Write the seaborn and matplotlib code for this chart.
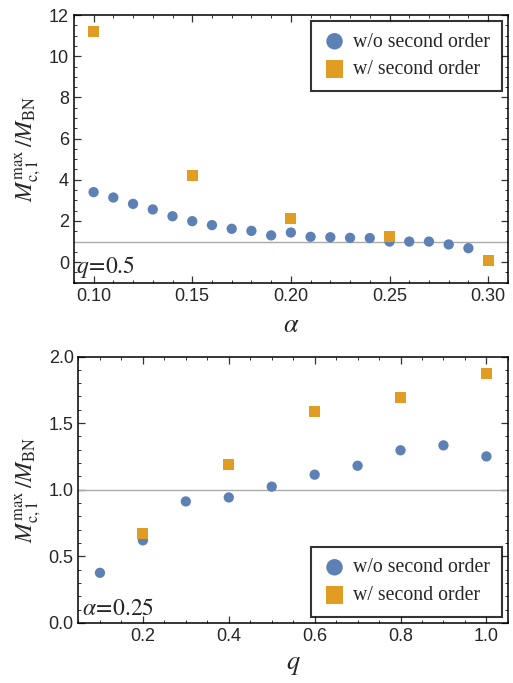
import numpy as np
import pandas as pd
import matplotlib
matplotlib.use("Agg")
import matplotlib.pyplot as plt
from matplotlib.ticker import MultipleLocator
import seaborn as sns

# top panel: q = 0.5, scan over alpha
alpha_wo = [0.10, 0.11, 0.12, 0.13, 0.14, 0.15, 0.16, 0.17, 0.18, 0.19,
            0.20, 0.21, 0.22, 0.23, 0.24, 0.25, 0.26, 0.27, 0.28, 0.29]
mass_alpha_wo = [3.40, 3.14, 2.83, 2.56, 2.23, 1.99, 1.80, 1.62, 1.52, 1.30,
                 1.44, 1.23, 1.21, 1.18, 1.17, 1.00, 1.00, 1.00, 0.86, 0.68]
alpha_w = [0.10, 0.15, 0.20, 0.25, 0.30]
mass_alpha_w = [11.19, 4.21, 2.12, 1.23, 0.08]

# bottom panel: alpha = 0.25, scan over q
q_wo = [0.1, 0.2, 0.3, 0.4, 0.5, 0.6, 0.7, 0.8, 0.9, 1.0]
mass_q_wo = [0.376, 0.62, 0.912, 0.942, 1.023, 1.113, 1.18, 1.296, 1.333, 1.25]
q_w = [0.2, 0.4, 0.6, 0.8, 1.0]
mass_q_w = [0.672, 1.19, 1.589, 1.694, 1.875]

BLUE = "#5E81B5"
ORANGE = "#E19C24"
LBL_WO = "w/o second order"
LBL_W = "w/ second order"
YLABEL = r"$M^{\mathrm{max}}_{\mathrm{c,1}}\,/M_{\mathrm{BN}}$"

sns.set_style("ticks")
plt.rcParams["font.family"] = ["Liberation Sans", "DejaVu Sans"]
plt.rcParams["mathtext.fontset"] = "stix"


def style_axes(ax):
    for sp in ax.spines.values():
        sp.set_linewidth(1.1)
        sp.set_color("black")
    ax.tick_params(which="both", direction="in", top=True, right=True,
                   labelsize=13, color="#333333")
    ax.tick_params(which="major", length=5, width=0.9)
    ax.tick_params(which="minor", length=2.5, width=0.7)


def panel(ax, x_wo, y_wo, x_w, y_w, leg_loc):
    df_wo = pd.DataFrame({"x": x_wo, "y": y_wo})
    df_w = pd.DataFrame({"x": x_w, "y": y_w})
    ax.axhline(1.0, color="#aaaaaa", lw=1.0, zorder=1)
    sns.scatterplot(data=df_wo, x="x", y="y", ax=ax, color=BLUE, marker="o",
                    s=55, edgecolor="none", label=LBL_WO, zorder=3)
    sns.scatterplot(data=df_w, x="x", y="y", ax=ax, color=ORANGE, marker="s",
                    s=65, edgecolor="none", label=LBL_W, zorder=3)
    leg = ax.legend(loc=leg_loc, frameon=True, fancybox=False, markerscale=1.6,
                    prop={"family": "Liberation Serif", "size": 14.3},
                    borderpad=0.6, handletextpad=0.35, labelspacing=0.45,
                    handlelength=1.2, borderaxespad=0.28)
    leg.get_frame().set_edgecolor("black")
    leg.get_frame().set_linewidth(1.5)
    ax.set_ylabel(YLABEL, fontsize=17, labelpad=4)
    style_axes(ax)


fig = plt.figure(figsize=(5.13, 6.83), dpi=100)
ax1 = fig.add_axes([0.144, 0.586, 0.846, 0.392])
ax2 = fig.add_axes([0.153, 0.088, 0.837, 0.390])

panel(ax1, alpha_wo, mass_alpha_wo, alpha_w, mass_alpha_w, "upper right")
ax1.set_xlim(0.09, 0.31)
ax1.set_ylim(-1, 12)
ax1.xaxis.set_major_locator(MultipleLocator(0.05))
ax1.xaxis.set_minor_locator(MultipleLocator(0.01))
ax1.yaxis.set_major_locator(MultipleLocator(2))
ax1.yaxis.set_minor_locator(MultipleLocator(0.5))
ax1.xaxis.set_major_formatter(matplotlib.ticker.FormatStrFormatter("%.2f"))
ax1.set_xlabel(r"$\alpha$", fontsize=19, labelpad=6)
ax1.text(0.005, 0.01, r"$q\!=\!0.5$", transform=ax1.transAxes,
         fontsize=17, ha="left", va="bottom")

panel(ax2, q_wo, mass_q_wo, q_w, mass_q_w, "lower right")
ax2.set_xlim(0.05, 1.05)
ax2.set_ylim(0, 2)
ax2.xaxis.set_major_locator(MultipleLocator(0.2))
ax2.xaxis.set_minor_locator(MultipleLocator(0.05))
ax2.yaxis.set_major_locator(MultipleLocator(0.5))
ax2.yaxis.set_minor_locator(MultipleLocator(0.1))
ax2.xaxis.set_major_formatter(matplotlib.ticker.FormatStrFormatter("%.1f"))
ax2.yaxis.set_major_formatter(matplotlib.ticker.FormatStrFormatter("%.1f"))
ax2.set_xlabel(r"$q$", fontsize=19, labelpad=6)
ax2.text(0.008, 0.01, r"$\alpha\!=\!0.25$", transform=ax2.transAxes,
         fontsize=17, ha="left", va="bottom")

fig.savefig("out.png", dpi=100)
